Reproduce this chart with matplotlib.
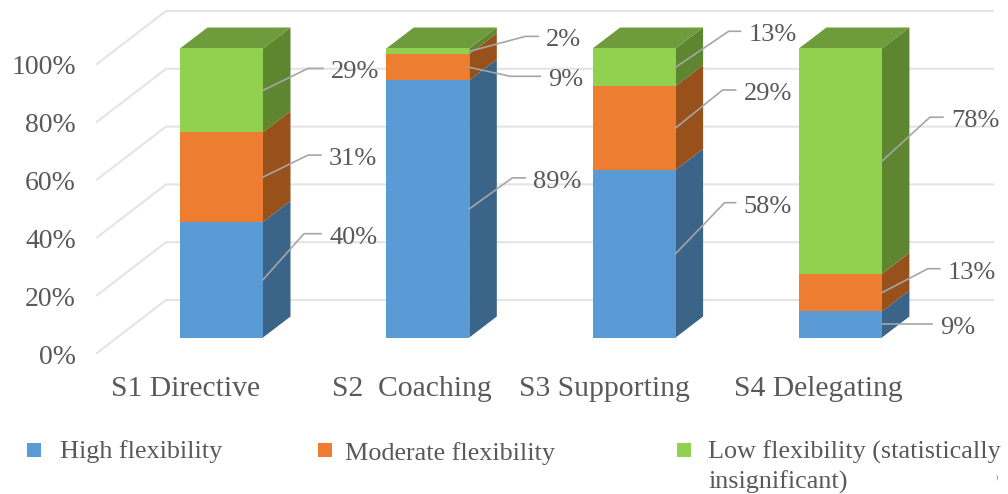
import matplotlib
matplotlib.use('Agg')
import matplotlib.pyplot as plt
from matplotlib.patches import Polygon

categories = ['S1 Directive', 'S2  Coaching', 'S3 Supporting', 'S4 Delegating']
high = [40, 89, 58, 9]
moderate = [31, 9, 29, 13]
low = [29, 2, 13, 78]
series_names = ['High flexibility', 'Moderate flexibility', 'Low flexibility (statistically\ninsignificant)']
y_ticks = [0, 20, 40, 60, 80, 100]

# front, side and top shades per series
front_col = ['#5B9BD5', '#ED7D31', '#92D050']
side_col = ['#3A6488', '#99511C', '#5E8530']
top_col = '#6E9B3C'
grid_col = '#E4E4E4'
text_col = '#595959'
leader_col = '#A6A6A6'

W, H = 1008, 494
X0, X_STEP = 221.5, 206.3   # pixel x of first category, pixels between categories
Y0, Y_SCALE = 337.5, 2.89   # pixel y of 0 %, pixels per percent
BAR_W = 83 / X_STEP
DEPTH_X = 27.5 / X_STEP
DEPTH_Y = 21 / Y_SCALE
TEXT_DROP = 4 / Y_SCALE     # va='center' sits a little high for these digits

plt.rcParams['font.family'] = ['Liberation Serif', 'DejaVu Serif']

fig = plt.figure(figsize=(W / 100, H / 100), dpi=100)
ax = fig.add_axes([0, 0, 1, 1])
ax.set_xlim(-X0 / X_STEP, (W - X0) / X_STEP)
ax.set_ylim((Y0 - H) / Y_SCALE, Y0 / Y_SCALE)
ax.axis('off')


# pixel position -> data coordinates
def px(x, y):
    return (x - X0) / X_STEP, (Y0 - y) / Y_SCALE


# walls: gridlines run along the back, then slant forward over the floor
wall_lift = 37.5 / Y_SCALE
floor_drop = 15.5 / Y_SCALE
left_x = px(97, 0)[0]
back_x = px(166, 0)[0]
right_x = px(993, 0)[0]
for t in y_ticks:
    ax.plot([left_x, back_x, right_x], [t - floor_drop, t + wall_lift, t + wall_lift],
            color=grid_col, lw=1.5, zorder=1, solid_joinstyle='miter')
    ax.text(px(76, 0)[0], t - floor_drop - TEXT_DROP, f'{t}%', ha='right', va='center',
            fontsize=20, color=text_col)

# elbow and tail of each leader line in pixels, relative to where it leaves the bar
leaders = [
    [(41, -46, 17), (45, -22, 13), (45, -22, 15)],
    [(43, -31, 13), (41, 9, 30), (56, -15, 13)],
    [(49, -51, 11), (47, -38, 13), (53, -36, 12)],
    [(50, 0, 0), (46, -24, 12), (48, -44, 13)],
]

series = [high, moderate, low]
for i in range(len(categories)):
    x_left = i - BAR_W / 2
    x_right = i + BAR_W / 2
    bottom = 0
    for s, values in enumerate(series):
        v = values[i]
        ax.bar(i, v, BAR_W, bottom=bottom, color=front_col[s], zorder=3)
        ax.add_patch(Polygon([(x_right, bottom), (x_right, bottom + v),
                              (x_right + DEPTH_X, bottom + v + DEPTH_Y),
                              (x_right + DEPTH_X, bottom + DEPTH_Y)],
                             closed=True, fc=side_col[s], ec='none', zorder=2.5))
        # leader line from the middle of the segment to its label
        ex, ey, tail = leaders[i][s]
        y_mid = bottom + v / 2
        x_elbow = x_right + ex / X_STEP
        y_elbow = y_mid - ey / Y_SCALE
        x_end = x_elbow + tail / X_STEP
        ax.plot([x_right, x_elbow, x_end], [y_mid, y_elbow, y_elbow],
                color=leader_col, lw=1.2, zorder=4)
        ax.text(x_end + 8 / X_STEP, y_elbow - TEXT_DROP, f'{v}%', ha='left', va='center',
                fontsize=19, color=text_col, zorder=5)
        bottom += v
    ax.add_patch(Polygon([(x_left, bottom), (x_right, bottom),
                          (x_right + DEPTH_X, bottom + DEPTH_Y),
                          (x_left + DEPTH_X, bottom + DEPTH_Y)],
                         closed=True, fc=top_col, ec='none', zorder=2.5))

# category labels under the floor, pushed left of their bars by different amounts
label_shift = [36, 16, 30, 22]
for i, name in enumerate(categories):
    ax.text(i - label_shift[i] / X_STEP, px(0, 389)[1], name, ha='center', va='center',
            fontsize=21.3, color=text_col)

# hand placed legend, the columns are not evenly spaced
legend_x = [(33.5, 60), (324.5, 345), (683.5, 708)]
for s, name in enumerate(series_names):
    mx, tx = legend_x[s]
    ax.plot(*px(mx, 449.5), marker='s', ms=10, color=front_col[s], mew=0)
    lines = name.split('\n')
    for n, line in enumerate(lines):
        ax.text(px(tx, 0)[0], px(0, (454 if s == 1 else 452) + 30.5 * n)[1], line,
                ha='left', va='center', fontsize=18.8, color=text_col)

# leftover bracket from the wrapped legend entry
ax.text(*px(997, 477), ')', ha='center', va='center', fontsize=5, color=text_col)

fig.savefig('out.png', dpi=100)
